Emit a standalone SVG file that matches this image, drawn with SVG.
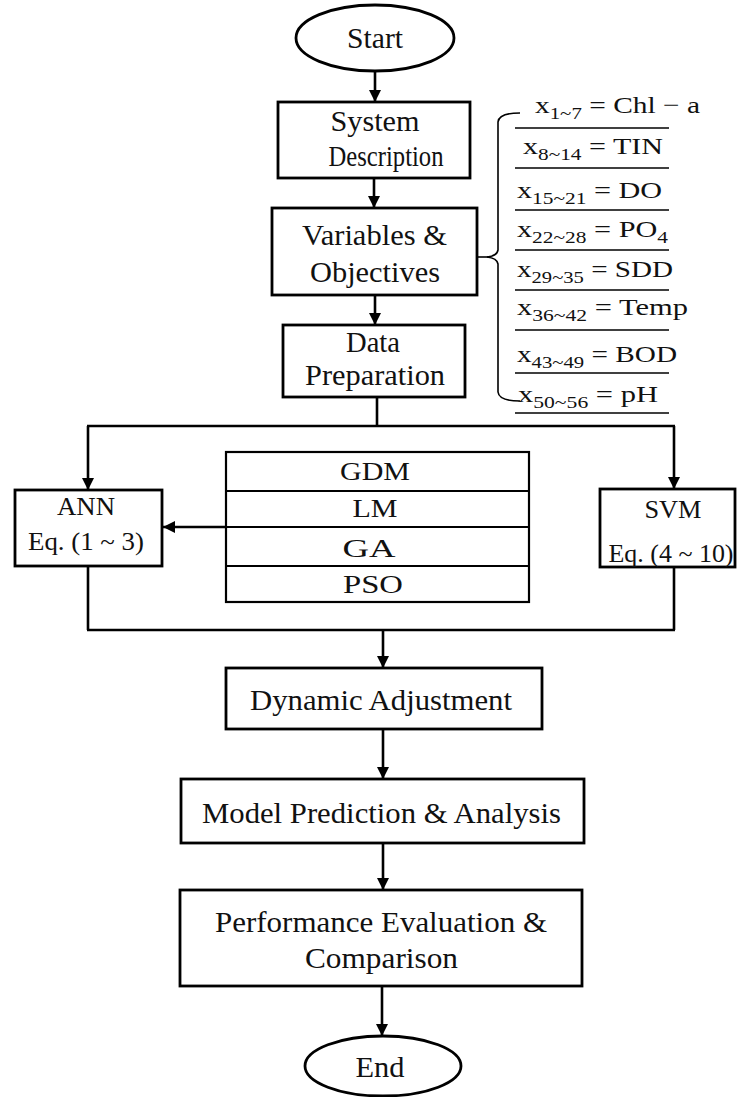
<svg xmlns="http://www.w3.org/2000/svg" width="737" height="1097" viewBox="0 0 737 1097">
<style>
.box{fill:#fff;stroke:#000;stroke-width:2.8}
.tbl{fill:none;stroke:#000;stroke-width:2.2}
.con{fill:none;stroke:#000;stroke-width:2.6}
.ln{fill:none;stroke:#000;stroke-width:1.6}
.t{font-family:"Liberation Serif","Times New Roman",serif;font-size:29px;fill:#111;text-anchor:middle}
.s{font-size:26px}
.m{font-family:"Liberation Serif","DejaVu Serif",serif;font-size:24px;fill:#111}
.sub{font-size:17px}
</style>
<defs>
<marker id="ah" markerUnits="userSpaceOnUse" markerWidth="12" markerHeight="12" refX="12" refY="6" orient="auto">
<path d="M0,0 L12,6 L0,12 z" fill="#000"/>
</marker>
</defs>
<g id="connectors">
<line class="con" x1="375" y1="72" x2="375" y2="102" marker-end="url(#ah)"/>
<line class="con" x1="374" y1="178" x2="374" y2="208" marker-end="url(#ah)"/>
<line class="con" x1="375" y1="295" x2="375" y2="325" marker-end="url(#ah)"/>
<line class="con" x1="377" y1="397" x2="377" y2="426"/>
<line class="con" x1="87" y1="426" x2="675" y2="426"/>
<line class="con" x1="88" y1="426" x2="88" y2="490" marker-end="url(#ah)"/>
<line class="con" x1="674" y1="426" x2="674" y2="489" marker-end="url(#ah)"/>
<line class="con" x1="226" y1="527" x2="163" y2="527" marker-end="url(#ah)"/>
<line class="con" x1="88" y1="566" x2="88" y2="630"/>
<line class="con" x1="674" y1="567" x2="674" y2="630"/>
<line class="con" x1="87" y1="630" x2="675" y2="630"/>
<line class="con" x1="383" y1="630" x2="383" y2="668" marker-end="url(#ah)"/>
<line class="con" x1="383" y1="729" x2="383" y2="779" marker-end="url(#ah)"/>
<line class="con" x1="383" y1="843" x2="383" y2="890" marker-end="url(#ah)"/>
<line class="con" x1="382" y1="986" x2="382" y2="1036" marker-end="url(#ah)"/>
<line class="ln" x1="477" y1="257" x2="488" y2="257"/>
</g>
<g id="start">
<ellipse class="box" cx="375" cy="38" rx="79" ry="33"/>
<text class="t" x="375" y="48" textLength="56" lengthAdjust="spacingAndGlyphs">Start</text>
</g>
<g id="system-description">
<rect class="box" x="278" y="102" width="192" height="76"/>
<text class="t" x="375" y="131" textLength="89" lengthAdjust="spacingAndGlyphs">System</text>
<text class="t" x="386" y="166" textLength="115" lengthAdjust="spacingAndGlyphs">Description</text>
</g>
<g id="variables-objectives">
<rect class="box" x="272" y="208" width="205" height="87"/>
<text class="t" x="374.5" y="245" textLength="145" lengthAdjust="spacingAndGlyphs">Variables  &amp;</text>
<text class="t" x="375" y="282" textLength="130" lengthAdjust="spacingAndGlyphs">Objectives</text>
</g>
<g id="data-preparation">
<rect class="box" x="283" y="325" width="182" height="72"/>
<text class="t" x="373" y="352" textLength="54" lengthAdjust="spacingAndGlyphs">Data</text>
<text class="t" x="375" y="385" textLength="140" lengthAdjust="spacingAndGlyphs">Preparation</text>
</g>
<g id="variable-list">
<path class="ln" d="M520,113 Q499,113 498,122 L498,250 Q497,256 487,257 Q497,258 498,264 L498,392 Q499,401 520,401"/>
<line class="ln" x1="515" y1="128" x2="669" y2="128"/>
<line class="ln" x1="515" y1="168" x2="669" y2="168"/>
<line class="ln" x1="515" y1="210" x2="669" y2="210"/>
<line class="ln" x1="515" y1="250" x2="669" y2="250"/>
<line class="ln" x1="515" y1="290" x2="669" y2="290"/>
<line class="ln" x1="515" y1="330" x2="669" y2="330"/>
<line class="ln" x1="515" y1="373" x2="669" y2="373"/>
<line class="ln" x1="515" y1="413" x2="669" y2="413"/>
<text class="m" x="535" y="113" textLength="165" lengthAdjust="spacingAndGlyphs">x<tspan class="sub" dy="6">1~7</tspan><tspan dy="-6"> = Chl − a</tspan></text>
<text class="m" x="523" y="154" textLength="140" lengthAdjust="spacingAndGlyphs">x<tspan class="sub" dy="6">8~14</tspan><tspan dy="-6"> = TIN</tspan></text>
<text class="m" x="517" y="198" textLength="145" lengthAdjust="spacingAndGlyphs">x<tspan class="sub" dy="6">15~21</tspan><tspan dy="-6"> = DO</tspan></text>
<text class="m" x="517" y="237" textLength="151" lengthAdjust="spacingAndGlyphs">x<tspan class="sub" dy="6">22~28</tspan><tspan dy="-6"> = PO</tspan><tspan class="sub" dy="6">4</tspan></text>
<text class="m" x="517" y="277" textLength="156" lengthAdjust="spacingAndGlyphs">x<tspan class="sub" dy="6">29~35</tspan><tspan dy="-6"> = SDD</tspan></text>
<text class="m" x="517" y="315" textLength="171" lengthAdjust="spacingAndGlyphs">x<tspan class="sub" dy="6">36~42</tspan><tspan dy="-6"> = Temp</tspan></text>
<text class="m" x="517" y="362" textLength="160" lengthAdjust="spacingAndGlyphs">x<tspan class="sub" dy="6">43~49</tspan><tspan dy="-6"> = BOD</tspan></text>
<text class="m" x="518" y="402" textLength="140" lengthAdjust="spacingAndGlyphs">x<tspan class="sub" dy="6">50~56</tspan><tspan dy="-6"> = pH</tspan></text>
</g>
<g id="ann">
<rect class="box" x="15" y="490" width="147" height="76"/>
<text class="t s" x="86" y="515" textLength="58" lengthAdjust="spacingAndGlyphs">ANN</text>
<text class="t s" x="86" y="550" textLength="116" lengthAdjust="spacingAndGlyphs">Eq. (1 ~ 3)</text>
</g>
<g id="algorithms">
<rect class="tbl" x="226" y="452" width="303" height="150"/>
<line class="tbl" x1="226" y1="491" x2="529" y2="491"/>
<line class="tbl" x1="226" y1="527" x2="529" y2="527"/>
<line class="tbl" x1="226" y1="566" x2="529" y2="566"/>
<text class="t s" x="375" y="480" textLength="70" lengthAdjust="spacingAndGlyphs">GDM</text>
<text class="t s" x="375" y="517" textLength="45" lengthAdjust="spacingAndGlyphs">LM</text>
<text class="t s" x="369" y="557" textLength="53" lengthAdjust="spacingAndGlyphs">GA</text>
<text class="t s" x="373" y="593" textLength="60" lengthAdjust="spacingAndGlyphs">PSO</text>
</g>
<g id="svm">
<rect class="box" x="600" y="489" width="135" height="78"/>
<text class="t s" x="673" y="518" textLength="57" lengthAdjust="spacingAndGlyphs">SVM</text>
<text class="t s" x="671" y="562" textLength="125" lengthAdjust="spacingAndGlyphs">Eq. (4 ~ 10)</text>
</g>
<g id="dynamic-adjustment">
<rect class="box" x="226" y="668" width="316" height="61"/>
<text class="t" x="381" y="710" textLength="262" lengthAdjust="spacingAndGlyphs">Dynamic  Adjustment</text>
</g>
<g id="model-prediction">
<rect class="box" x="181" y="779" width="403" height="64"/>
<text class="t" x="381.5" y="823" textLength="359" lengthAdjust="spacingAndGlyphs">Model Prediction  &amp; Analysis</text>
</g>
<g id="performance-evaluation">
<rect class="box" x="180" y="890" width="402" height="96"/>
<text class="t" x="381" y="932" textLength="332" lengthAdjust="spacingAndGlyphs">Performance Evaluation  &amp;</text>
<text class="t" x="381.5" y="968" textLength="153" lengthAdjust="spacingAndGlyphs">Comparison</text>
</g>
<g id="end">
<ellipse class="box" cx="383" cy="1066" rx="78" ry="30"/>
<text class="t" x="380" y="1077" textLength="49" lengthAdjust="spacingAndGlyphs">End</text>
</g>
</svg>
